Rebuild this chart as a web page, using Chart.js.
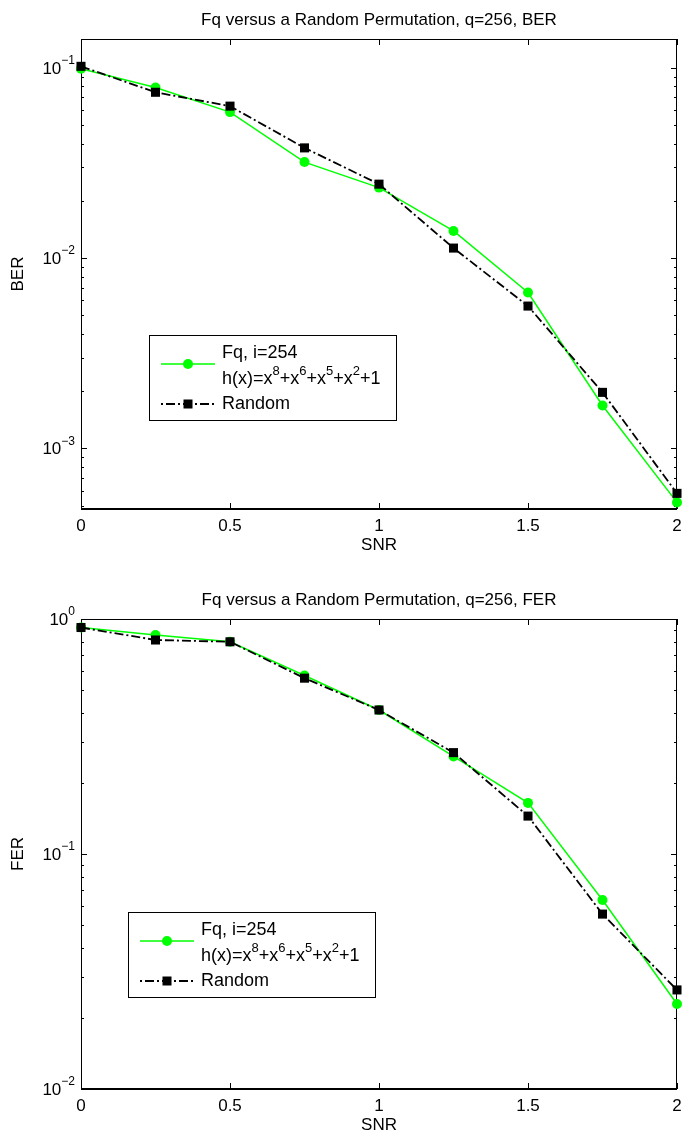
<!DOCTYPE html>
<html><head><meta charset="utf-8">
<script src="https://cdn.jsdelivr.net/npm/chart.js@4.4.1/dist/chart.umd.min.js"></script>
<style>
html,body{margin:0;padding:0;background:#fff;width:684px;height:1138px;overflow:hidden}
canvas{display:block;position:absolute;left:0}
</style></head>
<body>
<canvas id="c1" width="684" height="565" style="top:0px"></canvas>
<canvas id="c2" width="684" height="573" style="top:565px"></canvas>
<script>
// ---------- data ----------
const snr = [0, 0.25, 0.5, 0.75, 1, 1.25, 1.5, 1.75, 2];
const berFq     = [0.099, 0.079, 0.0586, 0.032, 0.0235, 0.0139, 0.0066, 0.00168, 0.00052];
const berRandom = [0.102, 0.0745, 0.063, 0.038, 0.0245, 0.0113, 0.0056, 0.00197, 0.00058];
const ferFq     = [0.92, 0.855, 0.80, 0.575, 0.41, 0.26, 0.165, 0.0637, 0.023];
const ferRandom = [0.92, 0.814, 0.80, 0.56, 0.41, 0.27, 0.145, 0.0555, 0.0264];

const xTickValues = [0, 0.5, 1, 1.5, 2];
const xTickLabels = ['0', '0.5', '1', '1.5', '2'];
const berDecades = [1e-3, 1e-2, 1e-1];
const ferDecades = [1e-2, 1e-1, 1];

const labelFq = 'Fq, i=254';
const labelFq2 = 'h(x)=x^8+x^6+x^5+x^2+1';
const labelRandom = 'Random';
const titleBER = 'Fq versus a Random Permutation, q=256, BER';
const titleFER = 'Fq versus a Random Permutation, q=256, FER';
const xTitle = 'SNR';

const FONT = '"Liberation Sans", Arial, Helvetica, sans-serif';
const GREEN = '#00ff00';
const DASH = [9, 3, 2, 3];

function minorTicks(min, max) {
  const out = [];
  let d = Math.pow(10, Math.floor(Math.log10(min)));
  while (d < max) {
    for (let k = 2; k <= 9; k++) {
      const v = k * d;
      if (v >= min && v <= max) out.push(v);
    }
    d *= 10;
  }
  return out;
}

function drawRich(ctx, str, x, y, size) {
  let cx = x;
  const sup = Math.round(size * 0.74);
  for (let i = 0; i < str.length; i++) {
    if (str[i] === '^') {
      const s = str[i + 1];
      ctx.font = sup + 'px ' + FONT;
      ctx.fillText(s, cx, y - size * 0.42);
      cx += ctx.measureText(s).width;
      i++;
    } else {
      ctx.font = size + 'px ' + FONT;
      ctx.fillText(str[i], cx, y);
      cx += ctx.measureText(str[i]).width;
    }
  }
}

function makePlugin(cfg) {
  return {
    id: 'matlabLook',
    beforeDatasetsDraw(chart) {
      const { ctx, chartArea: a, scales: { x, y } } = chart;
      ctx.save();
      ctx.strokeStyle = '#000';
      ctx.lineWidth = 1;
      ctx.strokeRect(a.left + 0.5, a.top + 0.5, a.right - a.left - 1, a.bottom - a.top);
      ctx.lineWidth = 2;
      ctx.beginPath(); ctx.moveTo(a.left, a.bottom); ctx.lineTo(a.right, a.bottom); ctx.stroke();
      ctx.lineWidth = 1;
      ctx.beginPath();
      xTickValues.forEach(v => {
        const px = Math.round(x.getPixelForValue(v)) + 0.5;
        ctx.moveTo(px, a.bottom); ctx.lineTo(px, a.bottom - 6);
        ctx.moveTo(px, a.top); ctx.lineTo(px, a.top + 6);
      });
      cfg.decades.forEach(v => {
        const py = Math.round(y.getPixelForValue(v)) + 0.5;
        ctx.moveTo(a.left, py); ctx.lineTo(a.left + 6, py);
        ctx.moveTo(a.right, py); ctx.lineTo(a.right - 6, py);
      });
      minorTicks(cfg.ymin, cfg.ymax).forEach(v => {
        const py = Math.round(y.getPixelForValue(v)) + 0.5;
        ctx.moveTo(a.left, py); ctx.lineTo(a.left + 3, py);
        ctx.moveTo(a.right, py); ctx.lineTo(a.right - 3, py);
      });
      ctx.stroke();
      ctx.restore();
    },
    afterDraw(chart) {
      const { ctx, chartArea: a, scales: { x, y } } = chart;
      ctx.save();
      ctx.fillStyle = '#000';
      ctx.textBaseline = 'middle';
      ctx.font = '17px ' + FONT;
      ctx.textAlign = 'center';
      xTickValues.forEach((v, i) => {
        ctx.fillText(xTickLabels[i], x.getPixelForValue(v), a.bottom + 17);
      });
      ctx.fillText(xTitle, (a.left + a.right) / 2, a.bottom + 36);
      ctx.fillText(cfg.title, (a.left + a.right) / 2, a.top - 19);
      ctx.textAlign = 'left';
      cfg.decades.forEach(v => {
        const py = y.getPixelForValue(v);
        const e = Math.round(Math.log10(v));
        const es = e < 0 ? '\u2212' + (-e) : String(e);
        ctx.font = '12px ' + FONT;
        const ws = ctx.measureText(es).width;
        ctx.font = '17px ' + FONT;
        const wb = ctx.measureText('10').width;
        const right = a.left - 6;
        ctx.fillText('10', right - ws - wb, py + 1);
        ctx.font = '12px ' + FONT;
        ctx.fillText(es, right - ws, py - 7);
      });
      ctx.font = '17px ' + FONT;
      ctx.save();
      ctx.translate(18, (a.top + a.bottom) / 2);
      ctx.rotate(-Math.PI / 2);
      ctx.textAlign = 'center';
      ctx.fillText(cfg.ylabel, 0, 0);
      ctx.restore();
      // legend
      const L = cfg.legend;
      const W = 247, H = 85;
      ctx.fillStyle = '#fff';
      ctx.fillRect(L.x, L.y, W, H);
      ctx.strokeStyle = '#000';
      ctx.lineWidth = 1;
      ctx.strokeRect(L.x + 0.5, L.y + 0.5, W, H);
      ctx.strokeStyle = GREEN; ctx.lineWidth = 1.5;
      ctx.beginPath(); ctx.moveTo(L.x + 12, L.y + 29); ctx.lineTo(L.x + 66, L.y + 29); ctx.stroke();
      ctx.fillStyle = GREEN;
      ctx.beginPath(); ctx.arc(L.x + 39, L.y + 29, 5, 0, Math.PI * 2); ctx.fill();
      ctx.strokeStyle = '#000'; ctx.lineWidth = 1.8;
      ctx.setLineDash(DASH); ctx.lineDashOffset = DASH[0] + DASH[1];
      ctx.beginPath(); ctx.moveTo(L.x + 12, L.y + 69); ctx.lineTo(L.x + 66, L.y + 69); ctx.stroke();
      ctx.setLineDash([]);
      ctx.fillStyle = '#000';
      ctx.fillRect(L.x + 39 - 4.5, L.y + 69 - 4.5, 9, 9);
      ctx.fillStyle = '#000';
      ctx.textAlign = 'left';
      ctx.font = '18px ' + FONT;
      ctx.fillText(labelFq, L.x + 73, L.y + 18);
      drawRich(ctx, labelFq2, L.x + 73, L.y + 44, 18);
      ctx.font = '18px ' + FONT;
      ctx.fillText(labelRandom, L.x + 73, L.y + 69);
      ctx.restore();
    }
  };
}

function makeChart(id, fq, rnd, cfg, padding) {
  const pts = arr => snr.map((s, i) => ({ x: s, y: arr[i] }));
  return new Chart(document.getElementById(id), {
    type: 'line',
    data: {
      datasets: [
        {
          label: labelFq, data: pts(fq), order: 2,
          borderColor: GREEN, backgroundColor: GREEN, borderWidth: 1.5,
          pointStyle: 'circle', pointRadius: 5, pointBorderWidth: 0,
          pointBackgroundColor: GREEN, tension: 0, clip: false
        },
        {
          label: labelRandom, data: pts(rnd), order: 1,
          borderColor: '#000', backgroundColor: '#000', borderWidth: 1.8,
          borderDash: DASH,
          pointStyle: 'rect', pointRadius: 6.4, pointBorderWidth: 0,
          pointBackgroundColor: '#000', tension: 0, clip: false
        }
      ]
    },
    options: {
      responsive: false, animation: false, devicePixelRatio: 1,
      layout: { padding },
      plugins: { legend: { display: false }, tooltip: { enabled: false }, title: { display: false } },
      scales: {
        x: { type: 'linear', min: 0, max: 2, display: false },
        y: { type: 'logarithmic', min: cfg.ymin, max: cfg.ymax, display: false }
      }
    },
    plugins: [makePlugin(cfg)]
  });
}

makeChart('c1', berFq, berRandom, {
  title: titleBER, ylabel: 'BER', decades: berDecades, ymin: 4.8e-4, ymax: 0.142,
  legend: { x: 149, y: 335 }
}, { left: 81, right: 7, top: 39, bottom: 56 });

makeChart('c2', ferFq, ferRandom, {
  title: titleFER, ylabel: 'FER', decades: ferDecades, ymin: 0.01, ymax: 1,
  legend: { x: 128, y: 347 }
}, { left: 81, right: 7, top: 54, bottom: 49 });
</script>
</body></html>
